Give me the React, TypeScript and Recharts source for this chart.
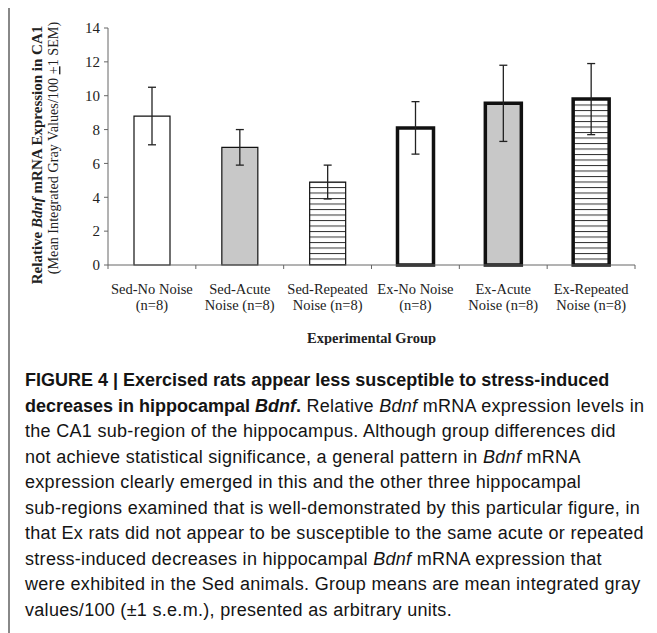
import React from 'react'
import { BarChart, Bar, XAxis, YAxis, Cell, ErrorBar } from 'recharts'

// group labels (two lines each, as printed under the axis)
const labelTop = ['Sed-No Noise', 'Sed-Acute', 'Sed-Repeated', 'Ex-No Noise', 'Ex-Acute', 'Ex-Repeated']
const labelBottom = ['(n=8)', 'Noise (n=8)', 'Noise (n=8)', '(n=8)', 'Noise (n=8)', 'Noise (n=8)']
// mean integrated gray values / 100 and +-1 SEM
const means = [8.8, 6.95, 4.9, 8.1, 9.55, 9.8]
const sems = [1.7, 1.05, 1.0, 1.55, 2.25, 2.1]
const yTicks = [0, 2, 4, 6, 8, 10, 12, 14]

const data = labelTop.map((name, i) => ({
  name,
  sub: labelBottom[i],
  mean: means[i],
  sem: sems[i],
}))

// look of each bar
const fills = ['#ffffff', '#c8c8c8', 'url(#hstripes)', '#ffffff', '#c8c8c8', 'url(#hstripes)']
const borders = [1.2, 1.2, 1.2, 3.5, 3.5, 3.5]

const W = 657
const H = 345
const M = { top: 28, right: 22, bottom: 5, left: 0 }
const Y_W = 108
const band = (W - M.left - M.right - Y_W) / labelTop.length

const serif = '"Liberation Serif", "Times New Roman", serif'

const GroupTick = ({ x, y, payload, index }: any) => {
  const i = index
  return (
    <g>
      <line x1={x - band / 2} x2={x - band / 2} y1={y} y2={y + 4} stroke="#666" />
      {i === labelTop.length - 1 && (
        <line x1={x + band / 2} x2={x + band / 2} y1={y} y2={y + 4} stroke="#666" />
      )}
      <text x={x} y={y + 29} textAnchor="middle" fontFamily={serif} fontSize={14.5} fill="#222">
        {payload.value}
      </text>
      <text x={x} y={y + 45} textAnchor="middle" fontFamily={serif} fontSize={14.5} fill="#222">
        {labelBottom[i]}
      </text>
    </g>
  )
}

const YTitle = () => (
  <g fontFamily={serif} fill="#222">
    <text x={42} y={155} transform="rotate(-90, 42, 155)" textAnchor="middle" fontSize={15} fontWeight="bold">
      Relative <tspan fontStyle="italic">Bdnf</tspan> mRNA Expression in CA1
    </text>
    <text x={58} y={148} transform="rotate(-90, 58, 148)" textAnchor="middle" fontSize={14.2}>
      (Mean Integrated Gray Values/100 <tspan textDecoration="underline">+</tspan>1 SEM)
    </text>
  </g>
)

const XTitle = ({ viewBox }: any) => (
  <text
    x={viewBox.x + viewBox.width / 2}
    y={viewBox.y + 78}
    textAnchor="middle"
    fontFamily={serif}
    fontSize={14.5}
    fontWeight="bold"
    fill="#222"
  >
    Experimental Group
  </text>
)

const sans = '"Liberation Sans", Arial, Helvetica, sans-serif'

export default function App() {
  return (
    <div style={{ position: 'relative', width: 649, height: 625 }}>
      <svg width={0} height={0} style={{ position: 'absolute' }}>
        <defs>
          <pattern id="hstripes" width={8} height={5.5} patternUnits="userSpaceOnUse">
            <rect width={8} height={5.5} fill="#fff" />
            <line x1={0} x2={8} y1={0.5} y2={0.5} stroke="#333" strokeWidth={1} />
          </pattern>
        </defs>
      </svg>

      <div
        style={{
          position: 'absolute',
          left: 0,
          top: -2,
          width: 647,
          height: 627,
          borderTop: '2px solid #888',
          borderLeft: '2px solid #888',
          boxSizing: 'border-box',
        }}
      />

      <div style={{ position: 'absolute', left: -8, top: -8 }}>
        <BarChart width={W} height={H} data={data} margin={M}>
          <XAxis
            dataKey="name"
            height={75}
            tickLine={false}
            tickSize={0}
            tickMargin={0}
            axisLine={{ stroke: '#666' }}
            tick={<GroupTick />}
            interval={0}
            label={{ content: <XTitle /> }}
          />
          <YAxis
            width={Y_W}
            domain={[0, 14]}
            ticks={yTicks}
            interval={0}
            tickSize={4}
            tickMargin={4}
            tickLine={{ stroke: '#666' }}
            axisLine={{ stroke: '#666' }}
            tick={{ fontFamily: serif, fontSize: 15, fill: '#222' }}
            label={{ content: <YTitle /> }}
          />
          <Bar dataKey="mean" barSize={36} isAnimationActive={false}>
            {data.map((d, i) => (
              <Cell key={d.name} fill={fills[i]} stroke="#111" strokeWidth={borders[i]} />
            ))}
            <ErrorBar dataKey="sem" width={4} stroke="#222" strokeWidth={1.3} direction="y" isAnimationActive={false} />
          </Bar>
        </BarChart>
      </div>

      <div
        style={{
          position: 'absolute',
          left: 17,
          top: 360,
          fontFamily: sans,
          fontSize: 18,
          lineHeight: '25.5px',
          color: '#141414',
          whiteSpace: 'nowrap',
          letterSpacing: 0.3,
        }}
      >
        <div style={{ fontWeight: 'bold', letterSpacing: 0 }}>
          FIGURE 4 | Exercised rats appear less susceptible to stress-induced
        </div>
        <div>
          <b style={{ letterSpacing: 0 }}>
            decreases in hippocampal <i>Bdnf</i>.
          </b>{' '}
          Relative <i>Bdnf</i> mRNA expression levels in
        </div>
        <div>the CA1 sub-region of the hippocampus. Although group differences did</div>
        <div>
          not achieve statistical significance, a general pattern in <i>Bdnf</i> mRNA
        </div>
        <div>expression clearly emerged in this and the other three hippocampal</div>
        <div>sub-regions examined that is well-demonstrated by this particular figure, in</div>
        <div>that Ex rats did not appear to be susceptible to the same acute or repeated</div>
        <div>
          stress-induced decreases in hippocampal <i>Bdnf</i> mRNA expression that
        </div>
        <div>were exhibited in the Sed animals. Group means are mean integrated gray</div>
        <div>values/100 (±1 s.e.m.), presented as arbitrary units.</div>
      </div>
    </div>
  )
}
